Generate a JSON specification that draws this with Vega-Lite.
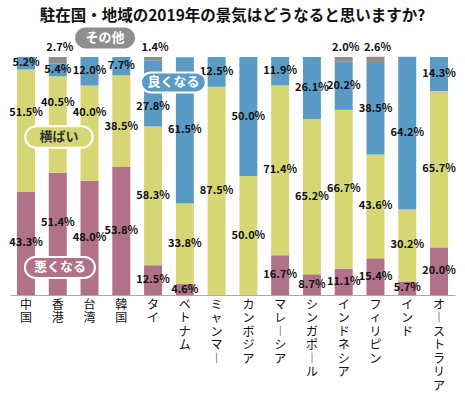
{
  "$schema": "https://vega.github.io/schema/vega-lite/v6.json",
  "width": 445,
  "height": 238,
  "autosize": "none",
  "padding": {"left": 10, "top": 57, "right": 10, "bottom": 98},
  "background": "white",
  "title": {
    "text": "駐在国・地域の2019年の景気はどうなると思いますか?",
    "font": "Noto Sans CJK JP",
    "fontSize": 15.5,
    "fontWeight": "bold",
    "color": "#111111",
    "anchor": "middle",
    "offset": 10,
    "dy": 12
  },
  "config": {"view": {"stroke": null}, "font": "Noto Sans CJK JP"},
  "datasets": {
    "survey": [
      {"国": "中国", "悪くなる": 43.3, "横ばい": 51.5, "良くなる": 5.2, "その他": 0},
      {"国": "香港", "悪くなる": 51.4, "横ばい": 40.5, "良くなる": 5.4, "その他": 2.7},
      {"国": "台湾", "悪くなる": 48.0, "横ばい": 40.0, "良くなる": 12.0, "その他": 0},
      {"国": "韓国", "悪くなる": 53.8, "横ばい": 38.5, "良くなる": 7.7, "その他": 0},
      {"国": "タイ", "悪くなる": 12.5, "横ばい": 58.3, "良くなる": 27.8, "その他": 1.4},
      {"国": "ベトナム", "悪くなる": 4.6, "横ばい": 33.8, "良くなる": 61.5, "その他": 0},
      {"国": "ミャンマー", "悪くなる": 0, "横ばい": 87.5, "良くなる": 12.5, "その他": 0},
      {"国": "カンボジア", "悪くなる": 0, "横ばい": 50.0, "良くなる": 50.0, "その他": 0},
      {"国": "マレーシア", "悪くなる": 16.7, "横ばい": 71.4, "良くなる": 11.9, "その他": 0},
      {"国": "シンガポール", "悪くなる": 8.7, "横ばい": 65.2, "良くなる": 26.1, "その他": 0},
      {"国": "インドネシア", "悪くなる": 11.1, "横ばい": 66.7, "良くなる": 20.2, "その他": 2.0},
      {"国": "フィリピン", "悪くなる": 15.4, "横ばい": 43.6, "良くなる": 38.5, "その他": 2.6},
      {"国": "インド", "悪くなる": 5.7, "横ばい": 30.2, "良くなる": 64.2, "その他": 0},
      {"国": "オーストラリア", "悪くなる": 20.0, "横ばい": 65.7, "良くなる": 14.3, "その他": 0}
    ],
    "tags": [
      {"名": "悪くなる", "x": 1.57, "y": 11.6},
      {"名": "横ばい", "x": 1.54, "y": 66.4},
      {"名": "良くなる", "x": 5.14, "y": 89.3},
      {"名": "その他", "x": 2.99, "y": 108}
    ]
  },
  "resolve": {"scale": {"x": "independent"}, "axis": {"x": "independent"}},
  "layer": [
    {
      "mark": {"type": "rule", "color": "#d4d4d4", "strokeWidth": 2},
      "encoding": {"y": {"datum": 100, "type": "quantitative", "scale": {"domain": [0, 100]}, "axis": null}}
    },
    {
      "data": {"name": "survey"},
      "transform": [
        {"fold": ["悪くなる", "横ばい", "良くなる", "その他"], "as": ["区分", "割合"]},
        {"calculate": "indexof(['悪くなる','横ばい','良くなる','その他'], datum['区分'])", "as": "順"},
        {"stack": "割合", "groupby": ["国"], "sort": [{"field": "順", "order": "ascending"}], "as": ["下", "上"]},
        {"calculate": "datum['国'] == '中国' && datum['区分'] == '横ばい' ? 76.5 : datum['国'] == '香港' && datum['区分'] == '横ばい' ? 80.7 : datum['国'] == '香港' && datum['区分'] == '悪くなる' ? 30.3 : datum['国'] == '台湾' && datum['区分'] == '横ばい' ? 76.5 : datum['国'] == '韓国' && datum['区分'] == '横ばい' ? 70.6 : datum['国'] == 'タイ' && datum['区分'] == '良くなる' ? 79 : (datum['下'] + datum['上']) / 2", "as": "中"},
        {"calculate": "format(datum['割合'], '.1f') + '%'", "as": "表示"}
      ],
      "layer": [
        {
          "mark": {"type": "bar"},
          "encoding": {
            "x": {
              "field": "国",
              "type": "nominal",
              "sort": null,
              "scale": {"paddingInner": 0.434, "paddingOuter": 0.22},
              "axis": {
                "title": null,
                "domain": true,
                "domainColor": "#aaaaaa",
                "domainWidth": 1,
                "ticks": false,
                "labelAngle": 0,
                "labelAlign": "center",
                "labelBaseline": "top",
                "labelFont": "Noto Sans CJK JP",
                "labelFontSize": 12,
                "labelLineHeight": 13.5,
                "labelColor": "#111111",
                "labelPadding": 4,
                "labelOverlap": false,
                "labelBound": false,
                "labelExpr": "split(replace(datum.label, 'ー', '︱'), '')"
              }
            },
            "y": {"field": "下", "type": "quantitative", "scale": {"domain": [0, 100]}, "axis": null},
            "y2": {"field": "上"},
            "color": {
              "field": "区分",
              "type": "nominal",
              "scale": {
                "domain": ["悪くなる", "横ばい", "良くなる", "その他"],
                "range": ["#b07189", "#d6d774", "#5a9bc6", "#8e8e8e"]
              },
              "legend": null
            }
          }
        },
        {
          "transform": [{"filter": "datum['割合'] > 0 && datum['区分'] != 'その他'"}],
          "mark": {"type": "text", "font": "Noto Sans CJK JP", "fontSize": 11, "fontWeight": "bold", "color": "#111111", "align": "center", "baseline": "middle"},
          "encoding": {
            "x": {"field": "国", "type": "nominal", "sort": null},
            "y": {"field": "中", "type": "quantitative"},
            "text": {"field": "表示"}
          }
        },
        {
          "transform": [{"filter": "datum['割合'] > 0 && datum['区分'] == 'その他'"}],
          "mark": {"type": "text", "font": "Noto Sans CJK JP", "fontSize": 11, "fontWeight": "bold", "color": "#111111", "align": "center", "baseline": "middle", "dy": -9, "dx": 2},
          "encoding": {
            "x": {"field": "国", "type": "nominal", "sort": null},
            "y": {"datum": 100, "type": "quantitative"},
            "text": {"field": "表示"}
          }
        }
      ]
    },
    {
      "data": {"name": "tags"},
      "layer": [
        {
          "mark": {"type": "point", "filled": true, "opacity": 1, "stroke": "white", "strokeWidth": 2, "strokeOpacity": 1},
          "encoding": {
            "x": {"field": "x", "type": "quantitative", "scale": {"domain": [0, 14], "zero": false, "nice": false}, "axis": null},
            "y": {"field": "y", "type": "quantitative", "scale": {"domain": [0, 100]}},
            "color": {
              "field": "名",
              "type": "nominal",
              "scale": {
                "domain": ["悪くなる", "横ばい", "良くなる", "その他"],
                "range": ["#b07189", "#d6d774", "#5a9bc6", "#8e8e8e"]
              },
              "legend": null
            },
            "shape": {
              "field": "名",
              "type": "nominal",
              "scale": {
                "domain": ["悪くなる", "横ばい", "良くなる", "その他"],
                "range": [
                  "M -0.7 -0.3 L 0.7 -0.3 A 0.3 0.3 0 0 1 0.7 0.3 L -0.7 0.3 A 0.3 0.3 0 0 1 -0.7 -0.3 Z",
                  "M -0.68 -0.32 L 0.68 -0.32 A 0.32 0.32 0 0 1 0.68 0.32 L -0.68 0.32 A 0.32 0.32 0 0 1 -0.68 -0.32 Z",
                  "M -0.69 -0.31 L 0.69 -0.31 A 0.31 0.31 0 0 1 0.69 0.31 L -0.69 0.31 A 0.31 0.31 0 0 1 -0.69 -0.31 Z",
                  "M -0.63 -0.37 L 0.63 -0.37 A 0.37 0.37 0 0 1 0.63 0.37 L -0.63 0.37 A 0.37 0.37 0 0 1 -0.63 -0.37 Z"
                ]
              },
              "legend": null
            },
            "size": {
              "field": "名",
              "type": "nominal",
              "scale": {
                "domain": ["悪くなる", "横ばい", "良くなる", "その他"],
                "range": [4900, 3844, 3969, 3025]
              },
              "legend": null
            }
          }
        },
        {
          "mark": {"type": "text", "font": "Noto Sans CJK JP", "fontSize": 13, "fontWeight": "bold", "align": "center", "baseline": "middle"},
          "encoding": {
            "x": {"field": "x", "type": "quantitative"},
            "y": {"field": "y", "type": "quantitative"},
            "text": {"field": "名"},
            "color": {"condition": {"test": "datum['名'] === '横ばい'", "value": "#333333"}, "value": "white"}
          }
        }
      ]
    }
  ]
}
